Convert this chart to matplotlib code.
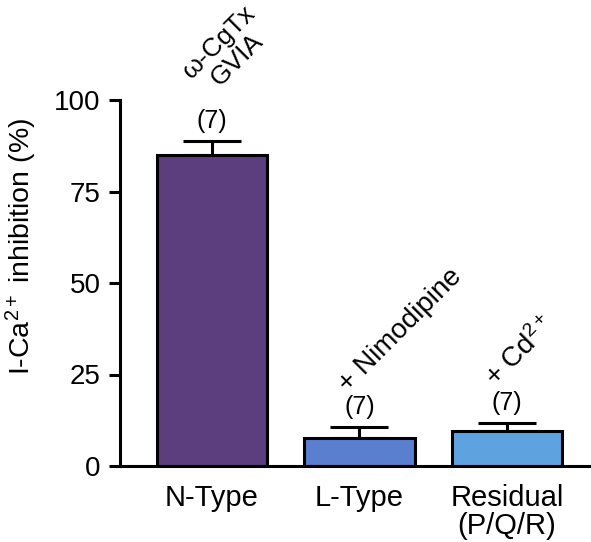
import numpy as np
import matplotlib.pyplot as plt

plt.rcParams['font.family'] = ['Liberation Sans', 'DejaVu Sans']
plt.rcParams['mathtext.fontset'] = 'custom'
plt.rcParams['mathtext.rm'] = 'Liberation Sans'
plt.rcParams['mathtext.it'] = 'Liberation Sans:italic'

categories = ["N-Type", "L-Type", "Residual\n(P/Q/R)"]
inhibition = np.array([85.0, 7.6, 9.6])
sem = np.array([3.8, 3.0, 2.1])
n_cells = [7, 7, 7]
blockers = ["\u03c9-CgTx\nGVIA", "+ Nimodipine", "+ Cd$^{2+}$"]
colors = ["#5c3d7d", "#5a7fcf", "#5fa2e0"]

fig = plt.figure(figsize=(5.91, 5.42), dpi=100)
ax = fig.add_axes([120/591, 76/542, 471/591, 366/542])

x = np.arange(len(categories))
ax.bar(x, inhibition, width=0.75, color=colors, edgecolor='black', linewidth=2.2, zorder=2)
ax.errorbar(x, inhibition, yerr=[np.zeros(3), sem], fmt='none', ecolor='black',
            elinewidth=2.2, capsize=21, capthick=2.2, zorder=1)

for i in range(len(x)):
    top = inhibition[i] + sem[i]
    ax.annotate("(%d)" % n_cells[i], (x[i], top), xytext=(0, 6), textcoords='offset points',
                ha='center', va='bottom', fontsize=18, annotation_clip=False)

# drug labels, tilted
ax.text(0.11, 113.5, blockers[0], rotation=45, rotation_mode='anchor', ha='center', va='center',
        fontsize=19, linespacing=1.05, clip_on=False)
ax.text(0.92, 20.0, blockers[1], rotation=45, rotation_mode='anchor', ha='left', va='baseline',
        fontsize=20, clip_on=False)
ax.text(1.92, 21.5, blockers[2], rotation=45, rotation_mode='anchor', ha='left', va='baseline',
        fontsize=20, clip_on=False)

ax.set_xlim(-0.624, 2.57)
ax.set_ylim(0, 100)
ax.set_yticks([0, 25, 50, 75, 100])
ax.set_xticks(x)
ax.set_xticklabels(categories, fontsize=21, linespacing=1.0)
ax.tick_params(axis='x', length=0, pad=13)
ax.tick_params(axis='y', labelsize=20, length=8, width=2.2, pad=6)
ax.set_ylabel("I-Ca$^{2+}$ inhibition (%)", fontsize=20.5)
ax.yaxis.set_label_coords(-0.172, 0.6)

for s in ['top', 'right']:
    ax.spines[s].set_visible(False)
ax.spines['left'].set_linewidth(2.2)
ax.spines['bottom'].set_linewidth(2.2)

fig.savefig("out.png", dpi=100)
